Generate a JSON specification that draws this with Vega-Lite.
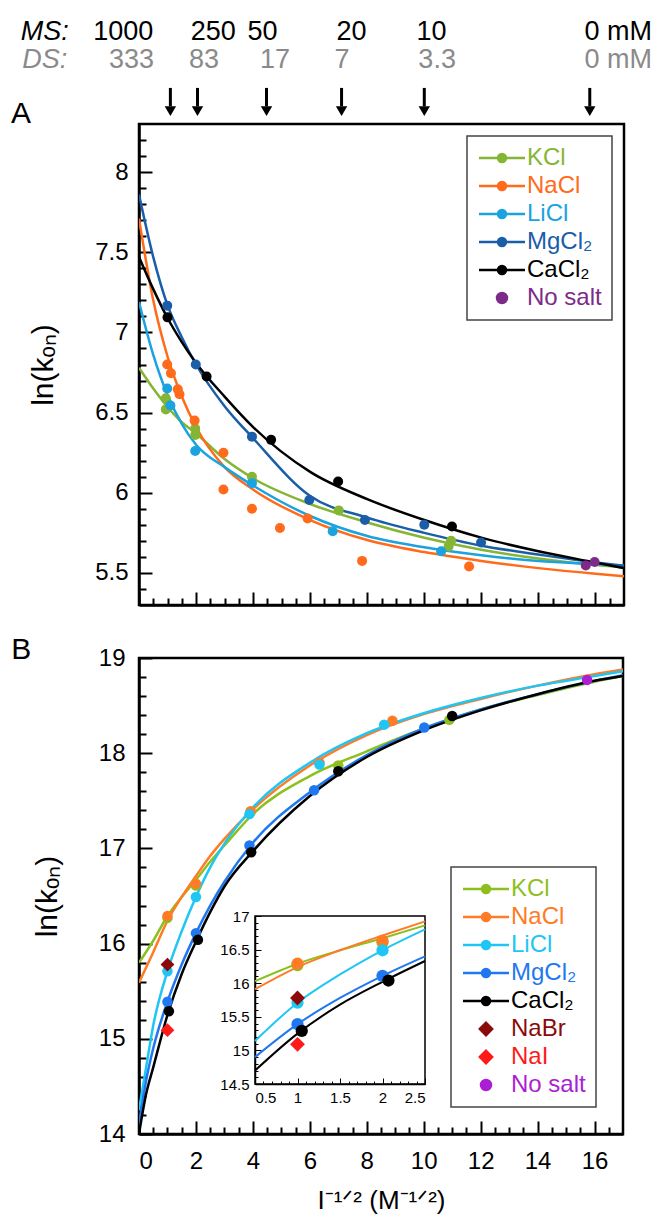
{
  "$schema": "https://vega.github.io/schema/vega-lite/v6.json",
  "padding": {"left": 9, "top": 16, "right": 5, "bottom": 5},
  "background": "white",
  "bounds": "flush",
  "spacing": 53,
  "config": {
    "font": "Liberation Sans",
    "view": {"stroke": "black", "strokeWidth": 2.5},
    "axis": {"domainColor": "black", "domainWidth": 2.5, "tickColor": "black", "tickWidth": 2, "labelColor": "black", "labelFont": "Liberation Sans", "labelFontSize": 24, "titleFont": "Liberation Sans", "titleFontWeight": "normal", "titleColor": "black", "titleFontSize": 30, "grid": false, "labelOverlap": false},
    "legend": {"labelFont": "Liberation Sans", "labelFontSize": 24, "symbolSize": 400, "symbolStrokeWidth": 2.5, "strokeColor": "#444", "strokeWidth": 1.5, "padding": 10, "rowPadding": 4, "labelOffset": 13, "symbolOffset": 13, "symbolType": "M-2.3,0H2.3M0.4,0A0.4,0.4,0,1,1,-0.4,0A0.4,0.4,0,1,1,0.4,0Z"}
  },
  "resolve": {"scale": {"color": "independent"}, "legend": {"color": "independent"}},
  "datasets": {
    "curvesA": [
      {"salt": "KCl", "x": 0, "y": 6.78}, {"salt": "KCl", "x": 0.5, "y": 6.65}, {"salt": "KCl", "x": 1, "y": 6.535}, {"salt": "KCl", "x": 1.5, "y": 6.44}, {"salt": "KCl", "x": 2, "y": 6.37}, {"salt": "KCl", "x": 3, "y": 6.21}, {"salt": "KCl", "x": 4, "y": 6.09}, {"salt": "KCl", "x": 6, "y": 5.93}, {"salt": "KCl", "x": 8, "y": 5.815}, {"salt": "KCl", "x": 10, "y": 5.72}, {"salt": "KCl", "x": 12, "y": 5.645}, {"salt": "KCl", "x": 14, "y": 5.59}, {"salt": "KCl", "x": 16, "y": 5.55}, {"salt": "KCl", "x": 17, "y": 5.535},
      {"salt": "NaCl", "x": 0, "y": 7.71}, {"salt": "NaCl", "x": 0.5, "y": 7.2}, {"salt": "NaCl", "x": 1, "y": 6.85}, {"salt": "NaCl", "x": 1.5, "y": 6.6}, {"salt": "NaCl", "x": 2, "y": 6.41}, {"salt": "NaCl", "x": 3, "y": 6.16}, {"salt": "NaCl", "x": 4, "y": 6.02}, {"salt": "NaCl", "x": 6, "y": 5.83}, {"salt": "NaCl", "x": 8, "y": 5.705}, {"salt": "NaCl", "x": 10, "y": 5.63}, {"salt": "NaCl", "x": 12, "y": 5.575}, {"salt": "NaCl", "x": 14, "y": 5.53}, {"salt": "NaCl", "x": 16, "y": 5.495}, {"salt": "NaCl", "x": 17, "y": 5.48},
      {"salt": "LiCl", "x": 0, "y": 7.19}, {"salt": "LiCl", "x": 0.5, "y": 6.86}, {"salt": "LiCl", "x": 1, "y": 6.61}, {"salt": "LiCl", "x": 1.5, "y": 6.43}, {"salt": "LiCl", "x": 2, "y": 6.3}, {"salt": "LiCl", "x": 3, "y": 6.16}, {"salt": "LiCl", "x": 4, "y": 6.045}, {"salt": "LiCl", "x": 6, "y": 5.855}, {"salt": "LiCl", "x": 8, "y": 5.73}, {"salt": "LiCl", "x": 10, "y": 5.66}, {"salt": "LiCl", "x": 12, "y": 5.61}, {"salt": "LiCl", "x": 14, "y": 5.575}, {"salt": "LiCl", "x": 16, "y": 5.555}, {"salt": "LiCl", "x": 17, "y": 5.545},
      {"salt": "MgCl₂", "x": 0, "y": 7.86}, {"salt": "MgCl₂", "x": 0.5, "y": 7.47}, {"salt": "MgCl₂", "x": 1, "y": 7.17}, {"salt": "MgCl₂", "x": 1.5, "y": 6.97}, {"salt": "MgCl₂", "x": 2, "y": 6.8}, {"salt": "MgCl₂", "x": 3, "y": 6.54}, {"salt": "MgCl₂", "x": 4, "y": 6.34}, {"salt": "MgCl₂", "x": 6, "y": 5.98}, {"salt": "MgCl₂", "x": 8, "y": 5.845}, {"salt": "MgCl₂", "x": 10, "y": 5.75}, {"salt": "MgCl₂", "x": 12, "y": 5.67}, {"salt": "MgCl₂", "x": 14, "y": 5.615}, {"salt": "MgCl₂", "x": 16, "y": 5.565}, {"salt": "MgCl₂", "x": 17, "y": 5.545},
      {"salt": "CaCl₂", "x": 0, "y": 7.47}, {"salt": "CaCl₂", "x": 0.5, "y": 7.27}, {"salt": "CaCl₂", "x": 1, "y": 7.09}, {"salt": "CaCl₂", "x": 1.5, "y": 6.94}, {"salt": "CaCl₂", "x": 2, "y": 6.81}, {"salt": "CaCl₂", "x": 3, "y": 6.6}, {"salt": "CaCl₂", "x": 4, "y": 6.41}, {"salt": "CaCl₂", "x": 6, "y": 6.13}, {"salt": "CaCl₂", "x": 8, "y": 5.96}, {"salt": "CaCl₂", "x": 10, "y": 5.83}, {"salt": "CaCl₂", "x": 12, "y": 5.72}, {"salt": "CaCl₂", "x": 14, "y": 5.635}, {"salt": "CaCl₂", "x": 16, "y": 5.565}, {"salt": "CaCl₂", "x": 17, "y": 5.53}
    ],
    "pointsA": [
      {"salt": "KCl", "x": 0.94, "y": 6.52}, {"salt": "KCl", "x": 0.94, "y": 6.59}, {"salt": "KCl", "x": 1.97, "y": 6.4}, {"salt": "KCl", "x": 1.97, "y": 6.36}, {"salt": "KCl", "x": 3.96, "y": 6.1}, {"salt": "KCl", "x": 7.0, "y": 5.89}, {"salt": "KCl", "x": 10.94, "y": 5.7}, {"salt": "KCl", "x": 10.85, "y": 5.665},
      {"salt": "NaCl", "x": 0.99, "y": 6.8}, {"salt": "NaCl", "x": 1.12, "y": 6.745}, {"salt": "NaCl", "x": 1.36, "y": 6.645}, {"salt": "NaCl", "x": 1.42, "y": 6.615}, {"salt": "NaCl", "x": 1.95, "y": 6.45}, {"salt": "NaCl", "x": 2.96, "y": 6.25}, {"salt": "NaCl", "x": 2.96, "y": 6.02}, {"salt": "NaCl", "x": 3.96, "y": 5.9}, {"salt": "NaCl", "x": 4.94, "y": 5.78}, {"salt": "NaCl", "x": 5.91, "y": 5.84}, {"salt": "NaCl", "x": 7.82, "y": 5.575}, {"salt": "NaCl", "x": 11.57, "y": 5.54},
      {"salt": "LiCl", "x": 0.99, "y": 6.65}, {"salt": "LiCl", "x": 1.1, "y": 6.545}, {"salt": "LiCl", "x": 1.97, "y": 6.26}, {"salt": "LiCl", "x": 3.96, "y": 6.06}, {"salt": "LiCl", "x": 6.79, "y": 5.76}, {"salt": "LiCl", "x": 10.59, "y": 5.635},
      {"salt": "MgCl₂", "x": 0.99, "y": 7.167}, {"salt": "MgCl₂", "x": 1.99, "y": 6.8}, {"salt": "MgCl₂", "x": 3.96, "y": 6.35}, {"salt": "MgCl₂", "x": 5.97, "y": 5.955}, {"salt": "MgCl₂", "x": 7.92, "y": 5.83}, {"salt": "MgCl₂", "x": 10.0, "y": 5.8}, {"salt": "MgCl₂", "x": 11.99, "y": 5.69},
      {"salt": "CaCl₂", "x": 1.0, "y": 7.094}, {"salt": "CaCl₂", "x": 2.37, "y": 6.725}, {"salt": "CaCl₂", "x": 4.63, "y": 6.33}, {"salt": "CaCl₂", "x": 6.98, "y": 6.07}, {"salt": "CaCl₂", "x": 10.97, "y": 5.79},
      {"salt": "No salt", "x": 15.66, "y": 5.547}, {"salt": "No salt", "x": 15.97, "y": 5.568}
    ],
    "headerMS": [{"label": "1000", "x": -0.55}, {"label": "250", "x": 2.6}, {"label": "50", "x": 4.33}, {"label": "20", "x": 7.45}, {"label": "10", "x": 10.25}, {"label": "0 mM", "x": 16.8}],
    "headerDS": [{"label": "333", "x": -0.26}, {"label": "83", "x": 2.28}, {"label": "17", "x": 4.77}, {"label": "7", "x": 7.12}, {"label": "3.3", "x": 10.45}, {"label": "0 mM", "x": 16.8}],
    "arrows": [{"x": 1.1}, {"x": 2.05}, {"x": 4.47}, {"x": 7.1}, {"x": 10.0}, {"x": 15.8}],
    "curvesB": [
      {"salt": "KCl", "x": 0, "y": 15.8}, {"salt": "KCl", "x": 0.5, "y": 16.03}, {"salt": "KCl", "x": 1, "y": 16.29}, {"salt": "KCl", "x": 1.5, "y": 16.49}, {"salt": "KCl", "x": 2, "y": 16.67}, {"salt": "KCl", "x": 2.5, "y": 16.86}, {"salt": "KCl", "x": 3, "y": 17.03}, {"salt": "KCl", "x": 4, "y": 17.36}, {"salt": "KCl", "x": 6, "y": 17.76}, {"salt": "KCl", "x": 8, "y": 18.02}, {"salt": "KCl", "x": 10, "y": 18.26}, {"salt": "KCl", "x": 12, "y": 18.46}, {"salt": "KCl", "x": 14, "y": 18.61}, {"salt": "KCl", "x": 16, "y": 18.75}, {"salt": "KCl", "x": 17, "y": 18.81},
      {"salt": "NaCl", "x": 0, "y": 15.59}, {"salt": "NaCl", "x": 0.5, "y": 15.91}, {"salt": "NaCl", "x": 1, "y": 16.24}, {"salt": "NaCl", "x": 1.5, "y": 16.49}, {"salt": "NaCl", "x": 2, "y": 16.71}, {"salt": "NaCl", "x": 2.5, "y": 16.92}, {"salt": "NaCl", "x": 3, "y": 17.1}, {"salt": "NaCl", "x": 4, "y": 17.41}, {"salt": "NaCl", "x": 6, "y": 17.87}, {"salt": "NaCl", "x": 8, "y": 18.19}, {"salt": "NaCl", "x": 10, "y": 18.41}, {"salt": "NaCl", "x": 12, "y": 18.57}, {"salt": "NaCl", "x": 14, "y": 18.71}, {"salt": "NaCl", "x": 16, "y": 18.83}, {"salt": "NaCl", "x": 17, "y": 18.88},
      {"salt": "LiCl", "x": 0, "y": 14.25}, {"salt": "LiCl", "x": 0.25, "y": 14.7}, {"salt": "LiCl", "x": 0.5, "y": 15.14}, {"salt": "LiCl", "x": 1, "y": 15.71}, {"salt": "LiCl", "x": 1.5, "y": 16.13}, {"salt": "LiCl", "x": 2, "y": 16.49}, {"salt": "LiCl", "x": 2.5, "y": 16.8}, {"salt": "LiCl", "x": 3, "y": 17.05}, {"salt": "LiCl", "x": 4, "y": 17.43}, {"salt": "LiCl", "x": 6, "y": 17.9}, {"salt": "LiCl", "x": 8, "y": 18.21}, {"salt": "LiCl", "x": 10, "y": 18.42}, {"salt": "LiCl", "x": 12, "y": 18.58}, {"salt": "LiCl", "x": 14, "y": 18.71}, {"salt": "LiCl", "x": 16, "y": 18.81}, {"salt": "LiCl", "x": 17, "y": 18.86},
      {"salt": "MgCl₂", "x": 0, "y": 14.1}, {"salt": "MgCl₂", "x": 0.25, "y": 14.56}, {"salt": "MgCl₂", "x": 0.5, "y": 14.9}, {"salt": "MgCl₂", "x": 1, "y": 15.39}, {"salt": "MgCl₂", "x": 1.5, "y": 15.78}, {"salt": "MgCl₂", "x": 2, "y": 16.11}, {"salt": "MgCl₂", "x": 2.5, "y": 16.4}, {"salt": "MgCl₂", "x": 3, "y": 16.65}, {"salt": "MgCl₂", "x": 4, "y": 17.06}, {"salt": "MgCl₂", "x": 6, "y": 17.59}, {"salt": "MgCl₂", "x": 8, "y": 17.98}, {"salt": "MgCl₂", "x": 10, "y": 18.26}, {"salt": "MgCl₂", "x": 12, "y": 18.46}, {"salt": "MgCl₂", "x": 14, "y": 18.62}, {"salt": "MgCl₂", "x": 16, "y": 18.76}, {"salt": "MgCl₂", "x": 17, "y": 18.82},
      {"salt": "CaCl₂", "x": 0, "y": 14.0}, {"salt": "CaCl₂", "x": 0.25, "y": 14.42}, {"salt": "CaCl₂", "x": 0.5, "y": 14.7}, {"salt": "CaCl₂", "x": 1, "y": 15.25}, {"salt": "CaCl₂", "x": 1.5, "y": 15.68}, {"salt": "CaCl₂", "x": 2, "y": 16.02}, {"salt": "CaCl₂", "x": 2.5, "y": 16.33}, {"salt": "CaCl₂", "x": 3, "y": 16.6}, {"salt": "CaCl₂", "x": 4, "y": 16.97}, {"salt": "CaCl₂", "x": 6, "y": 17.55}, {"salt": "CaCl₂", "x": 8, "y": 17.96}, {"salt": "CaCl₂", "x": 10, "y": 18.24}, {"salt": "CaCl₂", "x": 12, "y": 18.45}, {"salt": "CaCl₂", "x": 14, "y": 18.62}, {"salt": "CaCl₂", "x": 16, "y": 18.76}, {"salt": "CaCl₂", "x": 17, "y": 18.81}
    ],
    "pointsB": [
      {"salt": "KCl", "x": 1.0, "y": 16.27}, {"salt": "KCl", "x": 2.0, "y": 16.61}, {"salt": "KCl", "x": 3.92, "y": 17.38}, {"salt": "KCl", "x": 7.0, "y": 17.87}, {"salt": "KCl", "x": 10.9, "y": 18.35},
      {"salt": "NaCl", "x": 1.0, "y": 16.29}, {"salt": "NaCl", "x": 2.0, "y": 16.63}, {"salt": "NaCl", "x": 3.92, "y": 17.39}, {"salt": "NaCl", "x": 6.34, "y": 17.9}, {"salt": "NaCl", "x": 8.9, "y": 18.34},
      {"salt": "LiCl", "x": 1.0, "y": 15.71}, {"salt": "LiCl", "x": 2.0, "y": 16.49}, {"salt": "LiCl", "x": 3.88, "y": 17.36}, {"salt": "LiCl", "x": 6.34, "y": 17.88}, {"salt": "LiCl", "x": 8.61, "y": 18.3},
      {"salt": "MgCl₂", "x": 1.0, "y": 15.39}, {"salt": "MgCl₂", "x": 2.0, "y": 16.11}, {"salt": "MgCl₂", "x": 3.88, "y": 17.03}, {"salt": "MgCl₂", "x": 6.15, "y": 17.61}, {"salt": "MgCl₂", "x": 10.02, "y": 18.27},
      {"salt": "CaCl₂", "x": 1.05, "y": 15.29}, {"salt": "CaCl₂", "x": 2.07, "y": 16.04}, {"salt": "CaCl₂", "x": 3.94, "y": 16.96}, {"salt": "CaCl₂", "x": 7.0, "y": 17.81}, {"salt": "CaCl₂", "x": 11.0, "y": 18.39},
      {"salt": "No salt", "x": 15.74, "y": 18.77}
    ],
    "diamondsB": [{"salt": "NaBr", "x": 1.0, "y": 15.78}, {"salt": "NaI", "x": 1.0, "y": 15.09}]
  },
  "vconcat": [
    {
      "width": 485,
      "height": 481,
      "resolve": {"axis": {"x": "independent", "y": "independent"}},
      "layer": [
        {
          "data": {"name": "curvesA"},
          "mark": {"type": "line", "strokeWidth": 2.5, "interpolate": "monotone", "clip": true},
          "encoding": {
            "x": {"field": "x", "type": "quantitative", "scale": {"domain": [0, 17], "nice": false, "zero": false},
              "axis": {"orient": "bottom", "values": [0,2,4,6,8,10,12,14,16], "labels": false, "title": null, "tickSize": -13}},
            "y": {"field": "y", "type": "quantitative", "scale": {"domain": [5.3, 8.3], "nice": false, "zero": false},
              "axis": {"orient": "left", "values": [5.5,6,6.5,7,7.5,8], "format": ".1~f", "tickSize": -13,
                "labelPadding": 24, "title": "ln(kₒₙ)", "titlePadding": 36}},
            "color": {"field": "salt", "type": "nominal",
              "scale": {"domain": ["KCl", "NaCl", "LiCl", "MgCl₂", "CaCl₂", "No salt"], "range": ["#84b534", "#ff6b1a", "#1aa3de", "#1a5ea9", "#000000", "#7d2b8b"]},
              "legend": {"title": null, "orient": "top-right", "offset": 12,
                "encode": {
                  "symbols": {"update": {
                    "fill": {"signal": "{'KCl':'#84b534','NaCl':'#ff6b1a','LiCl':'#1aa3de','MgCl₂':'#1a5ea9','CaCl₂':'#000000','No salt':'#7d2b8b'}[datum.value]"},
                    "stroke": {"signal": "{'KCl':'#84b534','NaCl':'#ff6b1a','LiCl':'#1aa3de','MgCl₂':'#1a5ea9','CaCl₂':'#000000','No salt':'#7d2b8b'}[datum.value]"},
                    "opacity": {"value": 1},
                    "shape": {"signal": "datum.value === 'No salt' ? 'circle' : 'M-2.3,0H2.3M0.4,0A0.4,0.4,0,1,1,-0.4,0A0.4,0.4,0,1,1,0.4,0Z'"},
                    "size": {"signal": "datum.value === 'No salt' ? 100 : 400"}}},
                  "labels": {"update": {"fill": {"signal": "{'KCl':'#84b534','NaCl':'#ff6b1a','LiCl':'#1aa3de','MgCl₂':'#1a5ea9','CaCl₂':'#000000','No salt':'#7d2b8b'}[datum.value]"}}}
                }}}
          }
        },
        {
          "data": {"name": "pointsA"},
          "mark": {"type": "circle", "size": 100, "opacity": 1},
          "encoding": {
            "x": {"field": "x", "type": "quantitative",
              "axis": {"orient": "bottom", "values": [0.5,1,1.5,2.5,3,3.5,4.5,5,5.5,6.5,7,7.5,8.5,9,9.5,10.5,11,11.5,12.5,13,13.5,14.5,15,15.5,16.5], "labels": false, "domain": false, "title": null, "tickSize": -7}},
            "y": {"field": "y", "type": "quantitative",
              "axis": {"orient": "left", "values": [5.4,5.6,5.7,5.8,5.9,6.1,6.2,6.3,6.4,6.6,6.7,6.8,6.9,7.1,7.2,7.3,7.4,7.6,7.7,7.8,7.9,8.1,8.2], "labels": false, "domain": false, "title": null, "tickSize": -7}},
            "color": {"field": "salt", "type": "nominal"}
          }
        },
        {
          "data": {"name": "headerMS"},
          "mark": {"type": "text", "fontSize": 27, "baseline": "alphabetic", "align": "center", "clip": false, "color": "black"},
          "encoding": {"x": {"field": "x", "type": "quantitative", "axis": null}, "y": {"datum": 8.824, "type": "quantitative", "axis": null}, "text": {"field": "label"}}
        },
        {
          "data": {"name": "headerDS"},
          "mark": {"type": "text", "fontSize": 27, "baseline": "alphabetic", "align": "center", "clip": false, "color": "#8a8a8a"},
          "encoding": {"x": {"field": "x", "type": "quantitative", "axis": null}, "y": {"datum": 8.649, "type": "quantitative", "axis": null}, "text": {"field": "label"}}
        },
        {
          "data": {"values": [{"label": "MS:", "x": -3.3}]},
          "mark": {"type": "text", "fontSize": 27, "fontStyle": "italic", "baseline": "alphabetic", "align": "center", "clip": false, "color": "black"},
          "encoding": {"x": {"field": "x", "type": "quantitative", "axis": null}, "y": {"datum": 8.824, "type": "quantitative", "axis": null}, "text": {"field": "label"}}
        },
        {
          "data": {"values": [{"label": "DS:", "x": -3.3}]},
          "mark": {"type": "text", "fontSize": 27, "fontStyle": "italic", "baseline": "alphabetic", "align": "center", "clip": false, "color": "#8a8a8a"},
          "encoding": {"x": {"field": "x", "type": "quantitative", "axis": null}, "y": {"datum": 8.649, "type": "quantitative", "axis": null}, "text": {"field": "label"}}
        },
        {
          "data": {"values": [{"label": "A", "x": -4.49}]},
          "mark": {"type": "text", "fontSize": 30, "baseline": "alphabetic", "align": "left", "clip": false, "color": "black"},
          "encoding": {"x": {"field": "x", "type": "quantitative", "axis": null}, "y": {"datum": 8.306, "type": "quantitative", "axis": null}, "text": {"field": "label"}}
        },
        {
          "data": {"name": "arrows"},
          "mark": {"type": "rule", "strokeWidth": 3, "color": "black", "clip": false},
          "encoding": {"x": {"field": "x", "type": "quantitative", "axis": null}, "y": {"datum": 8.525, "type": "quantitative", "axis": null}, "y2": {"datum": 8.41}}
        },
        {
          "data": {"name": "arrows"},
          "mark": {"type": "point", "shape": "triangle-down", "filled": true, "size": 130, "opacity": 1, "color": "black", "clip": false},
          "encoding": {"x": {"field": "x", "type": "quantitative", "axis": null}, "y": {"datum": 8.38, "type": "quantitative", "axis": null}}
        }
      ]
    },
    {
      "width": 484,
      "height": 476,
      "resolve": {"scale": {"x": "independent", "y": "independent"}},
      "layer": [
        {
          "resolve": {"axis": {"x": "independent", "y": "independent"}},
          "layer": [
            {
              "data": {"name": "curvesB"},
              "mark": {"type": "line", "strokeWidth": 2.5, "interpolate": "monotone", "clip": true},
              "encoding": {
                "x": {"field": "x", "type": "quantitative", "scale": {"domain": [0, 17], "nice": false, "zero": false},
                  "axis": {"orient": "bottom", "values": [0,2,4,6,8,10,12,14,16], "format": "d", "tickSize": -13,
                    "labelPadding": 28, "title": "I⁻¹ᐟ² (M⁻¹ᐟ²)", "titlePadding": 14, "titleFontSize": 26}},
                "y": {"field": "y", "type": "quantitative", "scale": {"domain": [14, 19], "nice": false, "zero": false},
                  "axis": {"orient": "left", "values": [14,15,16,17,18,19], "format": "d", "tickSize": -13,
                    "labelPadding": 27, "title": "ln(kₒₙ)", "titlePadding": 36}},
                "color": {"field": "salt", "type": "nominal",
                  "scale": {"domain": ["KCl", "NaCl", "LiCl", "MgCl₂", "CaCl₂", "NaBr", "NaI", "No salt"], "range": ["#8dbf1f", "#ff7b25", "#20c6f3", "#1f78f0", "#000000", "#8b0a0a", "#ff1a1a", "#ab1ed3"]},
                  "legend": {"title": null, "orient": "bottom-right", "offset": 27,
                    "encode": {
                      "symbols": {"update": {
                        "fill": {"signal": "{'KCl':'#8dbf1f','NaCl':'#ff7b25','LiCl':'#20c6f3','MgCl₂':'#1f78f0','CaCl₂':'#000000','NaBr':'#8b0a0a','NaI':'#ff1a1a','No salt':'#ab1ed3'}[datum.value]"},
                        "stroke": {"signal": "{'KCl':'#8dbf1f','NaCl':'#ff7b25','LiCl':'#20c6f3','MgCl₂':'#1f78f0','CaCl₂':'#000000','NaBr':'#8b0a0a','NaI':'#ff1a1a','No salt':'#ab1ed3'}[datum.value]"},
                        "opacity": {"value": 1},
                        "shape": {"signal": "datum.value === 'No salt' ? 'circle' : (datum.value === 'NaBr' || datum.value === 'NaI') ? 'diamond' : 'M-2.3,0H2.3M0.4,0A0.4,0.4,0,1,1,-0.4,0A0.4,0.4,0,1,1,0.4,0Z'"},
                        "size": {"signal": "datum.value === 'No salt' ? 100 : (datum.value === 'NaBr' || datum.value === 'NaI') ? 150 : 400"}}},
                      "labels": {"update": {"fill": {"signal": "{'KCl':'#8dbf1f','NaCl':'#ff7b25','LiCl':'#20c6f3','MgCl₂':'#1f78f0','CaCl₂':'#000000','NaBr':'#8b0a0a','NaI':'#ff1a1a','No salt':'#ab1ed3'}[datum.value]"}}}
                    }}}
              }
            },
            {
              "data": {"name": "pointsB"},
              "mark": {"type": "circle", "size": 110, "opacity": 1},
              "encoding": {
                "x": {"field": "x", "type": "quantitative",
                  "axis": {"orient": "bottom", "values": [0.5,1,1.5,2.5,3,3.5,4.5,5,5.5,6.5,7,7.5,8.5,9,9.5,10.5,11,11.5,12.5,13,13.5,14.5,15,15.5,16.5], "labels": false, "domain": false, "title": null, "tickSize": -7}},
                "y": {"field": "y", "type": "quantitative",
                  "axis": {"orient": "left", "values": [14.2,14.4,14.6,14.8,15.2,15.4,15.6,15.8,16.2,16.4,16.6,16.8,17.2,17.4,17.6,17.8,18.2,18.4,18.6,18.8], "labels": false, "domain": false, "title": null, "tickSize": -7}},
                "color": {"field": "salt", "type": "nominal"}}
            },
            {
              "data": {"name": "diamondsB"},
              "mark": {"type": "point", "shape": "diamond", "filled": true, "size": 190, "opacity": 1},
              "encoding": {"x": {"field": "x", "type": "quantitative", "axis": null}, "y": {"field": "y", "type": "quantitative", "axis": null}, "color": {"field": "salt", "type": "nominal"}}
            },
            {
              "data": {"values": [{"label": "B", "x": -4.49}]},
              "mark": {"type": "text", "fontSize": 30, "baseline": "alphabetic", "align": "left", "clip": false, "color": "black"},
              "encoding": {"x": {"field": "x", "type": "quantitative", "axis": null}, "y": {"datum": 18.99, "type": "quantitative", "axis": null}, "text": {"field": "label"}}
            }
          ]
        },
        {
          "resolve": {"axis": {"x": "independent", "y": "independent"}},
          "layer": [
            {
              "data": {"values": [{}]},
              "mark": {"type": "rect", "filled": false, "stroke": "black", "strokeWidth": 1.5},
              "encoding": {
                "x": {"datum": 0.5, "type": "quantitative", "scale": {"domain": [0.5, 2.5], "range": [116, 286], "nice": false, "zero": false},
                  "axis": {"orient": "bottom", "offset": -50, "values": [0.5,1,1.5,2,2.5], "format": ".1~f",
                    "tickSize": -6, "tickWidth": 1, "domainWidth": 1.5, "labelFontSize": 15, "labelPadding": 12, "title": null}},
                "x2": {"datum": 2.5},
                "y": {"datum": 14.5, "type": "quantitative", "scale": {"domain": [14.5, 17], "range": [426, 258], "nice": false, "zero": false},
                  "axis": {"orient": "left", "offset": -116, "values": [14.5,15,15.5,16,16.5,17], "format": ".1~f",
                    "tickSize": -6, "tickWidth": 1, "domainWidth": 1.5, "labelFontSize": 15, "labelPadding": 12, "title": null}},
                "y2": {"datum": 17}
              }
            },
            {
              "data": {"name": "curvesB"},
              "transform": [{"filter": "datum.x >= 0.5 && datum.x <= 2.5"}],
              "mark": {"type": "line", "strokeWidth": 2, "interpolate": "monotone"},
              "encoding": {
                "x": {"field": "x", "type": "quantitative",
                  "axis": {"orient": "bottom", "offset": -50, "values": [0.6,0.7,0.8,0.9,1.1,1.2,1.3,1.4,1.6,1.7,1.8,1.9,2.1,2.2,2.3,2.4], "labels": false, "domain": false, "title": null, "tickSize": -3, "tickWidth": 1}},
                "y": {"field": "y", "type": "quantitative",
                  "axis": {"orient": "left", "offset": -116, "values": [14.6,14.7,14.8,14.9,15.1,15.2,15.3,15.4,15.6,15.7,15.8,15.9,16.1,16.2,16.3,16.4,16.6,16.7,16.8,16.9], "labels": false, "domain": false, "title": null, "tickSize": -3, "tickWidth": 1}},
                "color": {"field": "salt", "type": "nominal"}}
            },
            {
              "data": {"name": "pointsB"},
              "transform": [{"filter": "datum.x >= 0.5 && datum.x <= 2.5"}],
              "mark": {"type": "circle", "size": 150, "opacity": 1},
              "encoding": {"x": {"field": "x", "type": "quantitative", "axis": null}, "y": {"field": "y", "type": "quantitative", "axis": null}, "color": {"field": "salt", "type": "nominal"}}
            },
            {
              "data": {"name": "diamondsB"},
              "mark": {"type": "point", "shape": "diamond", "filled": true, "size": 220, "opacity": 1},
              "encoding": {"x": {"field": "x", "type": "quantitative", "axis": null}, "y": {"field": "y", "type": "quantitative", "axis": null}, "color": {"field": "salt", "type": "nominal"}}
            }
          ]
        }
      ]
    }
  ]
}
